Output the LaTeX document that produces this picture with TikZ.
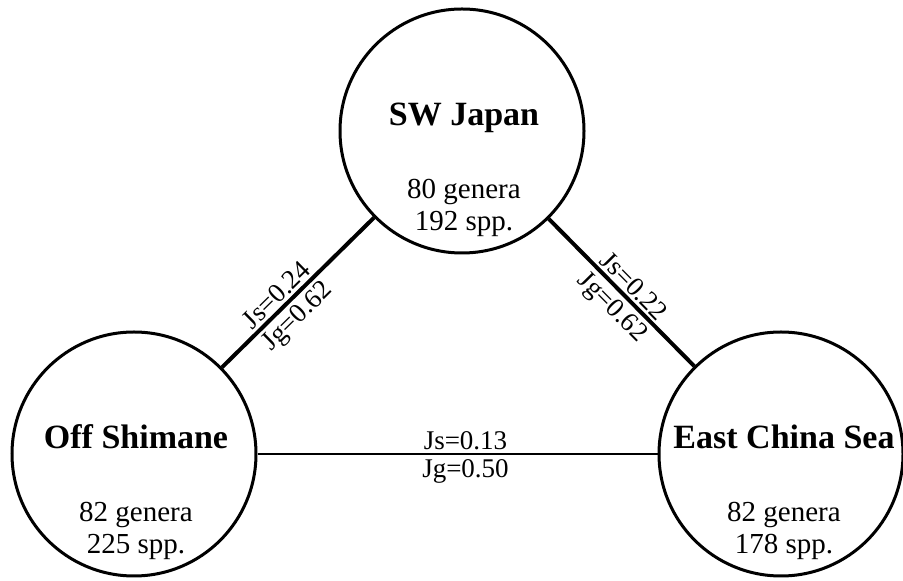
\documentclass[tikz,border=0pt]{standalone}
\usepackage{fontspec}
\setmainfont{Liberation Serif}
\begin{document}
\begin{tikzpicture}[x=1pt,y=1pt,
  region/.style={circle, draw, line width=3pt, minimum size=244pt, inner sep=0pt},
  title/.style={anchor=base, inner sep=0pt, font=\fontsize{34}{40}\selectfont\bfseries},
  info/.style={anchor=base, inner sep=0pt, font=\fontsize{29}{34}\selectfont},
  link/.style={line width=4pt},
  hlink/.style={line width=2.4pt},
  upper/.style={sloped, above=3pt, inner sep=0pt, text depth=0pt, font=\fontsize{27}{32}\selectfont},
  lower/.style={sloped, below=4pt, inner sep=0pt, text height=18pt, font=\fontsize{27}{32}\selectfont},
]
\useasboundingbox (0,0) rectangle (903,581);
\node[region] (sw) at (462,450) {};
\node[region] (os) at (134,127) {};
\node[region] (ecs) at (781,127) {};

\node[title] (swt) at (464,455) {SW Japan};
\node[info] (swg) at (464,382) {80 genera};
\node[info] (sws) at (464,350) {192 spp.};

\node[title] (ost) at (136,132) {Off Shimane};
\node[info] (osg) at (136,59) {82 genera};
\node[info] (oss) at (136,27) {225 spp.};

\node[title] (ecst) at (784,132) {East China Sea};
\node[info] (ecsg) at (784,59) {82 genera};
\node[info] (ecss) at (784,27) {178 spp.};

\draw[link] (os) -- node[upper, pos=0.42] (l1a) {Js=0.24} node[lower, pos=0.42] (l1b) {Jg=0.62} (sw);
\draw[link] (sw) -- node[upper, pos=0.52] (l2a) {Js=0.22} node[lower, pos=0.52] (l2b) {Jg=0.62} (ecs);
\draw[hlink] (os) -- node[upper, pos=0.52] (l3a) {Js=0.13} node[lower, pos=0.52] (l3b) {Jg=0.50} (ecs);
\end{tikzpicture}
\end{document}
